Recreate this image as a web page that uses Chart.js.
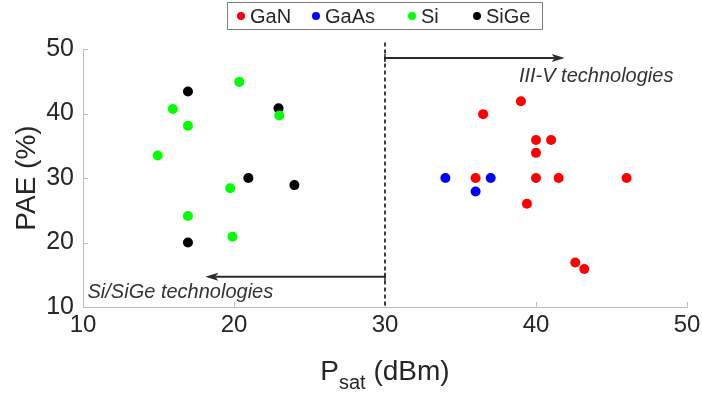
<!DOCTYPE html>
<html lang="en">
<head>
    <meta charset="UTF-8">
    <title>PAE vs Psat</title>
    <script src="https://cdn.jsdelivr.net/npm/chart.js@4.4.1/dist/chart.umd.min.js"></script>
    <style>
        * { margin: 0; padding: 0; box-sizing: border-box; }
        body { background: #fff; width: 702px; height: 401px; overflow: hidden; }
        .wrap { position: relative; width: 702px; height: 401px; }
    </style>
</head>
<body>
    <div class="wrap"><canvas id="paeChart" width="702" height="401"></canvas></div>

    <script>
        // Psat (dBm) / PAE (%) per technology
        const ganX  = [39, 36.5, 40, 41, 40, 40, 41.5, 46, 36, 39.4, 42.6, 43.2];
        const ganY  = [41.9, 39.9, 35.9, 35.9, 33.9, 30, 30, 30, 30, 26, 16.9, 15.9];
        const gaasX = [34, 37, 36];
        const gaasY = [30, 30, 27.9];
        const siX   = [20.35, 15.95, 16.95, 23, 14.95, 19.75, 16.95, 19.9];
        const siY   = [44.9, 40.7, 38.1, 39.7, 33.5, 28.4, 24.1, 20.9];
        const sigeX = [16.95, 22.95, 20.95, 24, 16.95];
        const sigeY = [43.4, 40.8, 30, 28.9, 20];

        const seriesNames = ['GaN', 'GaAs', 'Si', 'SiGe'];
        const xTicks = [10, 20, 30, 40, 50];
        const yTicks = [10, 20, 30, 40, 50];

        // divider and region arrows (data units)
        const dividerX = 30;
        const dividerY = [51, 10];
        const rightArrowX = [30, 41.9];
        const rightArrowY = 48.6;
        const leftArrowX = [30, 18.1];
        const leftArrowY = 14.7;

        const colors = ['#ff0000', '#0000ff', '#00ff00', '#000000'];
        const TEXT = '#262626';
        const AXIS = '#bdbdbd';
        const FONT = '"Liberation Sans", Arial, Helvetica, sans-serif';

        function pts(xs, ys) {
            return xs.map((x, i) => ({ x: x, y: ys[i] }));
        }

        const decor = {
            id: 'decor',
            beforeDatasetsDraw(chart) {
                const ctx = chart.ctx;
                const xs = chart.scales.x, ys = chart.scales.y;
                ctx.save();

                // inward ticks
                ctx.strokeStyle = AXIS;
                ctx.lineWidth = 1;
                xTicks.forEach(v => {
                    const px = Math.round(xs.getPixelForValue(v)) + 0.5;
                    ctx.beginPath();
                    ctx.moveTo(px, ys.bottom);
                    ctx.lineTo(px, ys.bottom - 5);
                    ctx.stroke();
                });
                yTicks.forEach(v => {
                    const py = Math.round(ys.getPixelForValue(v)) + 0.5;
                    ctx.beginPath();
                    ctx.moveTo(xs.left, py);
                    ctx.lineTo(xs.left + 5, py);
                    ctx.stroke();
                });

                // dashed divider
                const dx = xs.getPixelForValue(dividerX);
                ctx.strokeStyle = '#000';
                ctx.lineWidth = 1.5;
                ctx.setLineDash([4, 3]);
                ctx.beginPath();
                ctx.moveTo(dx, ys.getPixelForValue(dividerY[0]));
                ctx.lineTo(dx, ys.getPixelForValue(dividerY[1]));
                ctx.stroke();
                ctx.setLineDash([]);

                // arrows
                function arrow(x0, x1, yv) {
                    const a = xs.getPixelForValue(x0);
                    const b = xs.getPixelForValue(x1);
                    const y = ys.getPixelForValue(yv);
                    const dir = b > a ? 1 : -1;
                    ctx.strokeStyle = '#2b2b2b';
                    ctx.fillStyle = '#2b2b2b';
                    ctx.lineWidth = 2;
                    ctx.beginPath();
                    ctx.moveTo(a, y);
                    ctx.lineTo(b - dir * 10, y);
                    ctx.stroke();
                    ctx.beginPath();
                    ctx.moveTo(b, y);
                    ctx.lineTo(b - dir * 13, y - 4);
                    ctx.lineTo(b - dir * 10, y);
                    ctx.lineTo(b - dir * 13, y + 4);
                    ctx.closePath();
                    ctx.fill();
                    ctx.lineWidth = 1.5;
                    ctx.beginPath();
                    ctx.moveTo(a, y - 4);
                    ctx.lineTo(a, y + 4);
                    ctx.stroke();
                }
                arrow(rightArrowX[0], rightArrowX[1], rightArrowY);
                arrow(leftArrowX[0], leftArrowX[1], leftArrowY);

                // region labels
                ctx.fillStyle = '#333';
                ctx.font = 'italic 20px ' + FONT;
                ctx.textBaseline = 'middle';
                ctx.textAlign = 'right';
                ctx.fillText('III-V technologies', xs.getPixelForValue(49.1), ys.getPixelForValue(45.7));
                ctx.textAlign = 'left';
                ctx.fillText('Si/SiGe technologies', xs.getPixelForValue(10.3), ys.getPixelForValue(12.2));
                ctx.restore();
            },
            afterDraw(chart) {
                const ctx = chart.ctx;
                const xs = chart.scales.x;
                ctx.save();

                // x axis title with subscript
                ctx.fillStyle = TEXT;
                ctx.textBaseline = 'alphabetic';
                ctx.textAlign = 'left';
                const big = '28px ' + FONT, small = '20px ' + FONT;
                ctx.font = big;
                const wP = ctx.measureText('P').width;
                const wUnit = ctx.measureText(' (dBm)').width;
                ctx.font = small;
                const wSub = ctx.measureText('sat').width;
                const total = wP + wSub + wUnit;
                let x = (xs.left + xs.right) / 2 - total / 2;
                const base = 380;
                ctx.font = big;
                ctx.fillText('P', x, base);
                x += wP;
                ctx.font = small;
                ctx.fillText('sat', x, base + 9);
                x += wSub;
                ctx.font = big;
                ctx.fillText(' (dBm)', x, base);

                // legend box
                const L = 227.5, T = 2.5, W = 315, H = 27;
                ctx.fillStyle = '#fff';
                ctx.fillRect(L, T, W, H);
                ctx.strokeStyle = '#7f7f7f';
                ctx.lineWidth = 1;
                ctx.strokeRect(L, T, W, H);
                const dotX = [241, 316, 412, 477];
                ctx.font = '20px ' + FONT;
                ctx.textBaseline = 'middle';
                chart.data.datasets.forEach((ds, i) => {
                    ctx.fillStyle = ds.backgroundColor;
                    ctx.beginPath();
                    ctx.arc(dotX[i], 16, 4, 0, Math.PI * 2);
                    ctx.fill();
                    ctx.fillStyle = TEXT;
                    ctx.fillText(ds.label, dotX[i] + 9, 17);
                });
                ctx.restore();
            }
        };

        const allX = [ganX, gaasX, siX, sigeX];
        const allY = [ganY, gaasY, siY, sigeY];

        new Chart(document.getElementById('paeChart'), {
            type: 'scatter',
            data: {
                datasets: seriesNames.map((name, i) => ({
                    label: name,
                    data: pts(allX[i], allY[i]),
                    backgroundColor: colors[i],
                    borderColor: colors[i],
                    pointRadius: 5,
                    pointHoverRadius: 5,
                    borderWidth: 0
                }))
            },
            options: {
                responsive: false,
                animation: false,
                layout: { padding: { top: 49, right: 15, left: 0, bottom: 0 } },
                plugins: {
                    legend: { display: false },
                    tooltip: { enabled: false }
                },
                scales: {
                    x: {
                        type: 'linear',
                        min: 10, max: 50,
                        afterBuildTicks: s => { s.ticks = xTicks.map(v => ({ value: v })); },
                        afterFit: s => { s.height = 94; s.paddingRight = 0; s.paddingLeft = 0; },
                        grid: { display: false, drawTicks: false },
                        border: { display: true, color: AXIS, width: 1 },
                        ticks: { color: TEXT, font: { size: 24, family: FONT }, padding: 4 }
                    },
                    y: {
                        type: 'linear',
                        min: 10, max: 50,
                        afterBuildTicks: s => { s.ticks = yTicks.map(v => ({ value: v })); },
                        afterFit: s => { s.width = 83; },
                        grid: { display: false, drawTicks: false },
                        border: { display: true, color: AXIS, width: 1 },
                        ticks: { color: TEXT, font: { size: 25, family: FONT }, padding: 9 },
                        title: {
                            display: true,
                            text: 'PAE (%)',
                            color: TEXT,
                            font: { size: 28, family: FONT },
                            padding: { top: 10, bottom: 0 }
                        }
                    }
                }
            },
            plugins: [decor]
        });
    </script>
</body>
</html>
